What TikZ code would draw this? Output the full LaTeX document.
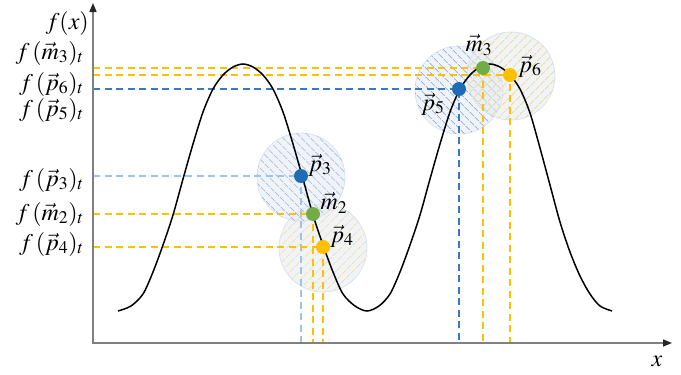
\documentclass[tikz,border=0pt]{standalone}
\usepackage{mathptmx}
\usetikzlibrary{arrows.meta,patterns.meta}
\definecolor{dblue}{RGB}{31,108,180}
\definecolor{lblue}{RGB}{157,195,230}
\definecolor{mblue}{RGB}{52,122,200}
\definecolor{gold}{RGB}{255,192,0}
\definecolor{dgreen}{RGB}{112,173,71}
\definecolor{cfill}{RGB}{228,235,244}
\definecolor{cedge}{RGB}{210,222,236}
\definecolor{hblue}{RGB}{130,160,215}
\definecolor{hyellow}{RGB}{240,215,140}
\begin{document}
\begin{tikzpicture}[x=1pt,y=-1pt,font=\fontsize{24}{28}\selectfont,
  axisline/.style={draw=black!50,line width=1.5pt,-{Triangle[length=9pt,width=7pt,color=black!85,fill=black!85]}},
  zoneb/.style={circle,minimum size=88pt,inner sep=0pt,fill=cfill,fill opacity=0.55,draw=cedge,draw opacity=0.8,line width=0.8pt,
     postaction={pattern={Lines[angle=-45,distance=6.5pt,line width=1pt]},pattern color=hblue,fill opacity=0.75}},
  zoney/.style={circle,minimum size=88pt,inner sep=0pt,fill=cfill,fill opacity=0.55,draw=cedge,draw opacity=0.8,line width=0.8pt,
     postaction={pattern={Lines[angle=45,distance=6.5pt,line width=1pt]},pattern color=hyellow,fill opacity=0.9}},
  guide/.style={line width=1.3pt,dash pattern=on 7pt off 4.5pt},
  dot/.style={circle,minimum size=14pt,inner sep=0pt,draw=none},
  curve/.style={draw=black,line width=1.5pt},
  ylab/.style={anchor=east,inner sep=0pt},
  plab/.style={inner sep=0pt}]
\useasboundingbox (0,0) rectangle (681,375);
\coordinate (O) at (93,343);
\coordinate (ytop) at (93,3);
\coordinate (xend) at (672,343);
% zones
\node[zoney] (c4) at (323,248) {};
\node[zoneb] (c3) at (301,177) {};
\node[zoneb] (c5) at (459,90) {};
\node[zoney] (c6) at (511,76) {};
% dots (positions)
\coordinate (P3) at (301,176);
\coordinate (M2) at (313,214);
\coordinate (P4) at (323,247);
\coordinate (P5) at (459,89);
\coordinate (M3) at (483,68);
\coordinate (P6) at (510,75);
% guide lines
\draw[guide,draw=lblue] (P3 -| O) -- (P3) -- (P3 |- O);
\draw[guide,draw=gold] (M2 -| O) -- (M2) -- (M2 |- O);
\draw[guide,draw=gold] (P4 -| O) -- (P4) -- (P4 |- O);
\draw[guide,draw=mblue] (P5 -| O) -- (P5) -- (P5 |- O);
\draw[guide,draw=gold] (M3 -| O) -- (M3) -- (M3 |- O);
\draw[guide,draw=gold] (P6 -| O) -- (P6) -- (P6 |- O);
% curve
\draw[curve] plot[smooth,tension=0.5] coordinates {
 (118,311) (131,306) (143,294) (153,272) (163,245) (173,215) (183,179) (193,144) (203,112) (213,89) (223,75) (233,67) (243,64)
 (253,67) (263,75) (273,89) (283,112) (293,144) (303,179) (313,215) (323,245) (333,272) (343,294) (355,306) (367,311)
 (379,306) (390,294) (400,272) (410,245) (420,215) (430,179) (440,144) (450,112) (460,89) (470,75) (480,67) (490,64)
 (500,67) (510,75) (520,89) (530,113) (540,148) (550,185) (560,222) (570,252) (580,276) (590,294) (600,306) (612,311)};
% axes
\draw[axisline] (O) -- (ytop);
\draw[axisline] (92,343) -- (xend);
% dots
\node[dot,fill=dblue] (p3) at (P3) {};
\node[dot,fill=dgreen] (m2) at (M2) {};
\node[dot,fill=gold] (p4) at (P4) {};
\node[dot,fill=dblue] (p5) at (P5) {};
\node[dot,fill=dgreen] (m3) at (M3) {};
\node[dot,fill=gold] (p6) at (P6) {};
% point labels
\node[plab] (lp3) at (320,165) {$\vec{p}_3$};
\node[plab] (lm2) at (334,203) {$\vec{m}_2$};
\node[plab] (lp4) at (342,236) {$\vec{p}_4$};
\node[plab] (lm3) at (479,45) {$\vec{m}_3$};
\node[plab] (lp6) at (530,66) {$\vec{p}_6$};
\node[plab] (lp5) at (433,104) {$\vec{p}_5$};
% axis labels
\node[ylab] (fx) at (89,23) {$f(x)$};
\node[ylab] (fm3) at (84,53) {$f\,(\vec{m}_3)_t$};
\node[ylab] (fp6) at (84,84) {$f\,(\vec{p}_6)_t$};
\node[ylab] (fp5) at (84,110) {$f\,(\vec{p}_5)_t$};
\node[ylab] (fp3) at (84,180) {$f\,(\vec{p}_3)_t$};
\node[ylab] (fm2) at (84,214) {$f\,(\vec{m}_2)_t$};
\node[ylab] (fp4) at (84,244) {$f\,(\vec{p}_4)_t$};
\node (xl) at (657,361) {$x$};
\end{tikzpicture}
\end{document}
